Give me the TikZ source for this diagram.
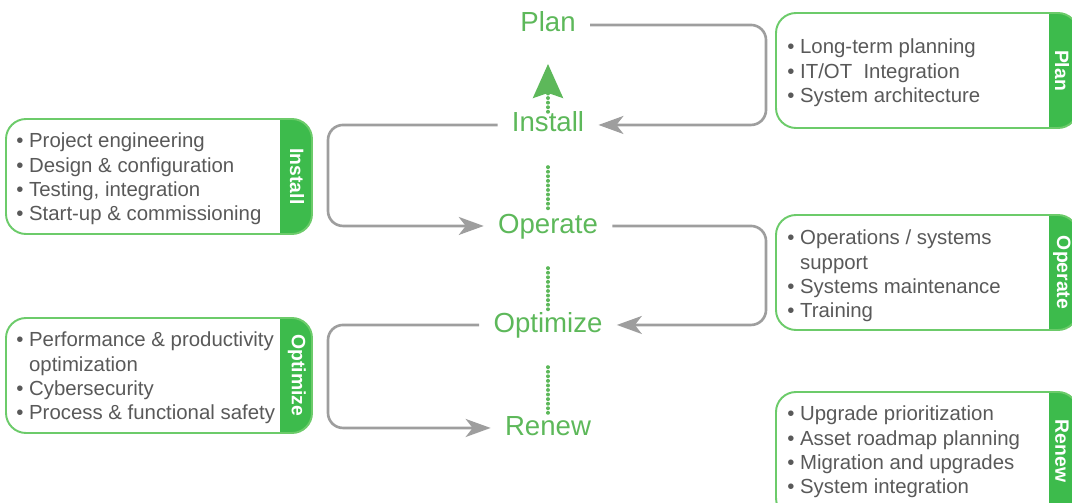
\documentclass[tikz,border=0pt]{standalone}
\usepackage{fontspec}
\setmainfont{Liberation Sans}
\usetikzlibrary{arrows.meta,positioning,fit,calc}
\definecolor{stagegreen}{HTML}{5DB85A}
\definecolor{tabgreen}{HTML}{3DBB4C}
\definecolor{framegreen}{HTML}{6CCB6A}
\definecolor{loopgrey}{HTML}{9E9E9E}
\definecolor{itemgrey}{HTML}{595959}
\tikzset{
  stagenode/.style={
    text=stagegreen,
    font=\fontsize{15.7}{18}\selectfont,
    text height=11pt,
    text depth=3pt,
    inner xsep=8pt,
    anchor=base
  },
  infobox/.style={
    draw=framegreen,
    line width=1.1pt,
    rounded corners=4mm,
    fill=white,
    inner sep=0pt,
    path picture={\fill[tabgreen,sharp corners] ([xshift=-#1]path picture bounding box.north east) rectangle (path picture bounding box.south east);}
  },
  infobox/.default=6.4mm,
  tabtitle/.style={text=white, font=\fontsize{11}{13}\selectfont\bfseries, rotate=-90},
  itemlist/.style={
    text=itemgrey,
    font=\fontsize{11.6}{13.9}\selectfont,
    align=left,
    anchor=west,
    inner sep=0pt
  },
  looparrow/.style={-{Stealth[length=5mm,width=3.6mm,inset=1.4mm]},line width=1.5pt,draw=loopgrey,rounded corners=3mm},
  dotlink/.style={draw=stagegreen,line width=2pt,line cap=round,dash pattern=on 0.2pt off 2.4pt,shorten <=8.4mm,shorten >=2.8mm},
  uparrow/.style={-{Stealth[length=6.8mm,width=6mm,inset=1mm]},draw=stagegreen,line width=2pt,line cap=round,dash pattern=on 0.2pt off 2.4pt,shorten <=2.6mm,shorten >=7.8mm}
}
\begin{document}
\begin{tikzpicture}[x=0.2mm,y=-0.2mm]
  \useasboundingbox (0,0) rectangle (1072,503);
  % side boxes
  \node[infobox=6.4mm, fit={(6,119) (312,234)}] (installbox) {};
  \node[infobox=6.4mm, fit={(6,318) (312,433)}] (optimizebox) {};
  \node[infobox=5.8mm, fit={(776,13) (1078,128)}] (planbox) {};
  \node[infobox=5.8mm, fit={(776,215) (1078,330)}] (operatebox) {};
  \node[infobox=5.8mm, fit={(776,392) (1078,518)}] (renewbox) {};
  \node[tabtitle] (installtab) at ([xshift=-3.2mm]installbox.east) {Install};
  \node[tabtitle] (optimizetab) at ([xshift=-3.2mm]optimizebox.east) {Optimize};
  \node[tabtitle] (plantab) at ([xshift=-3.4mm]planbox.east) {Plan};
  \node[tabtitle] (operatetab) at ([xshift=-3.4mm]operatebox.east) {Operate};
  \node[tabtitle] (renewtab) at ([xshift=-3.4mm,yshift=0.8mm]renewbox.east) {Renew};
  \node[itemlist] (installitems) at (16,179) {• Project engineering\\• Design \& configuration\\• Testing, integration\\• Start-up \& commissioning};
  \node[itemlist] (optimizeitems) at (16,378) {• Performance \& productivity\\\phantom{• }optimization\\• Cybersecurity\\• Process \& functional safety};
  \node[itemlist] (planitems) at (787,73) {• Long-term planning\\• IT/OT\ \ Integration\\• System architecture};
  \node[itemlist] (operateitems) at (787,276) {• Operations / systems\\\phantom{• }support\\• Systems maintenance\\• Training};
  \node[itemlist] (renewitems) at (787,452) {• Upgrade prioritization\\• Asset roadmap planning\\• Migration and upgrades\\• System integration};
  % lifecycle stages
  \node[stagenode] (plan) at (548,32) {Plan};
  \node[stagenode] (install) at (548,132) {Install};
  \node[stagenode] (operate) at (548,233) {Operate};
  \node[stagenode] (optimize) at (548,332) {Optimize};
  \node[stagenode] (renew) at (548,435) {Renew};
  \coordinate (rightbend) at (766,0);
  \coordinate (leftbend) at (328,0);
  \draw[looparrow] (plan.east) -- (plan.east -| rightbend) |- (install.east);
  \draw[looparrow] (install.west) -- (install.west -| leftbend) |- (operate.west);
  \draw[looparrow] (operate.east) -- (operate.east -| rightbend) |- (optimize.east);
  \draw[looparrow] (optimize.west) -- (optimize.west -| leftbend) |- (renew.west);
  \draw[uparrow] (install.center) -- (plan.center);
  \draw[dotlink] (install.center) -- (operate.center);
  \draw[dotlink] (operate.center) -- (optimize.center);
  \draw[dotlink] (optimize.center) -- (renew.center);
\end{tikzpicture}
\end{document}
